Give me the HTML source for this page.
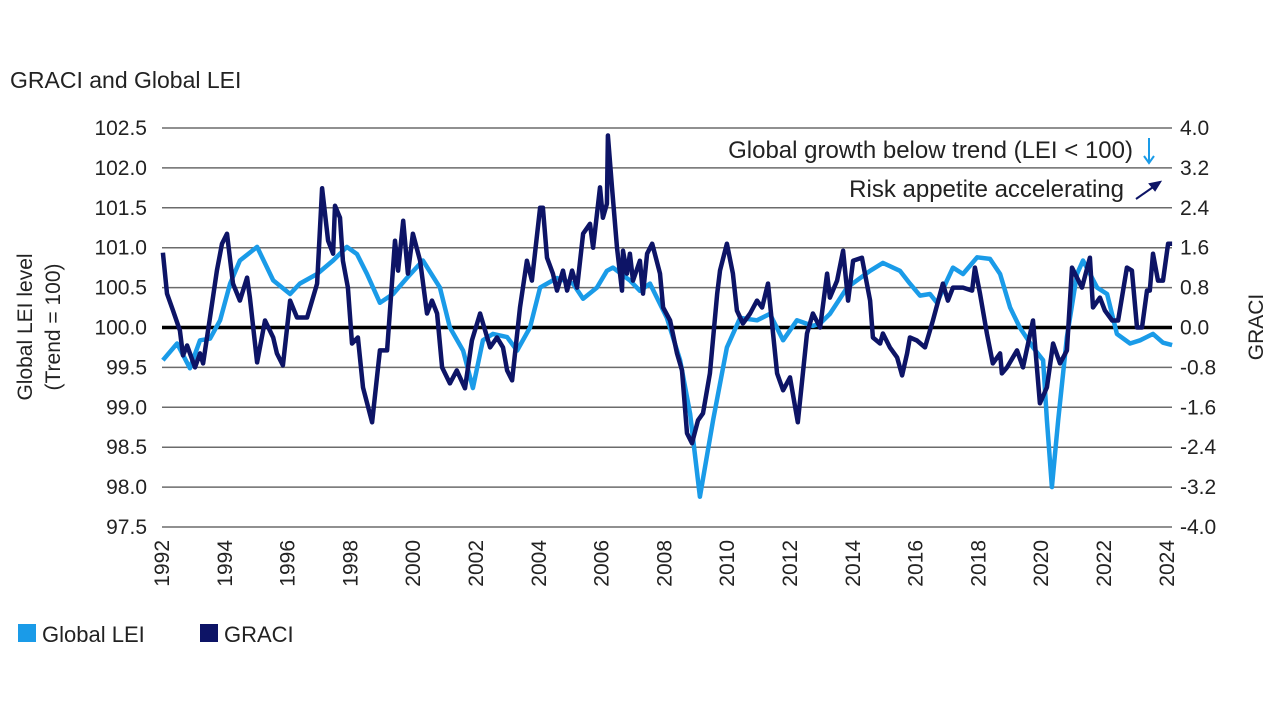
<!DOCTYPE html>
<html><head><meta charset="utf-8"><style>
body{margin:0;background:#fff;width:1280px;height:720px;overflow:hidden;font-family:"Liberation Sans",sans-serif}
</style></head><body>
<svg id="chart" width="1280" height="720" style="position:absolute;left:0;top:0" font-family="Liberation Sans, sans-serif">
<text x="10" y="88" font-size="23" fill="#222">GRACI and Global LEI</text>
<g id="grid"></g>
<g id="lticks" font-size="21" fill="#222" text-anchor="end"></g>
<g id="rticks" font-size="21" fill="#222"></g>
<g id="xticks" font-size="21" fill="#222"></g>
<text transform="translate(32,327) rotate(-90)" text-anchor="middle" font-size="21" fill="#222">Global LEI level</text>
<text transform="translate(60,327) rotate(-90)" text-anchor="middle" font-size="21" fill="#222">(Trend = 100)</text>
<text transform="translate(1263,327) rotate(-90)" text-anchor="middle" font-size="21" fill="#222">GRACI</text>
<g id="series"></g>
<text x="1133" y="158" text-anchor="end" font-size="24" fill="#222">Global growth below trend (LEI &lt; 100)</text>
<g stroke="#1a9be8" stroke-width="2" fill="none"><line x1="1149" y1="138" x2="1149" y2="162"/><polyline points="1144,156 1149,163 1154,156"/></g>
<text x="1124" y="197" text-anchor="end" font-size="24" fill="#222">Risk appetite accelerating</text>
<g stroke="#0d1466" stroke-width="2" fill="#0d1466"><line x1="1136" y1="199" x2="1156" y2="185"/><polygon points="1160,182 1150,184 1155,190"/></g>
<g>
<rect x="18" y="624" width="18" height="18" fill="#1a9be8"/>
<text x="42" y="642" font-size="22" fill="#222">Global LEI</text>
<rect x="200" y="624" width="18" height="18" fill="#0d1466"/>
<text x="224" y="642" font-size="22" fill="#222">GRACI</text>
</g>
</svg>
<script>
const leiDates=[1992.03,1992.48,1992.89,1993.21,1993.53,1993.85,1994.17,1994.48,1995.03,1995.54,1996.08,1996.39,1996.94,1997.45,1997.89,1998.21,1998.53,1998.94,1999.36,1999.8,2000.31,2000.85,2001.17,2001.59,2001.9,2002.22,2002.54,2002.99,2003.31,2003.72,2004.04,2004.58,2005.09,2005.41,2005.85,2006.17,2006.36,2006.9,2007.22,2007.54,2008.08,2008.5,2008.82,2009.13,2009.55,2009.99,2010.41,2010.95,2011.36,2011.78,2012.22,2012.73,2012.96,2013.27,2013.82,2014.13,2014.55,2014.96,2015.5,2015.82,2016.14,2016.46,2016.68,2017.0,2017.19,2017.51,2017.96,2018.37,2018.69,2019.01,2019.32,2019.74,2020.06,2020.18,2020.34,2020.54,2020.82,2021.14,2021.33,2021.78,2022.1,2022.41,2022.83,2023.15,2023.56,2023.88,2024.17];
const leiValues=[99.59,99.8,99.49,99.84,99.86,100.09,100.55,100.84,101.01,100.59,100.42,100.55,100.67,100.84,101.01,100.92,100.67,100.31,100.42,100.62,100.84,100.5,100.0,99.71,99.24,99.84,99.92,99.88,99.71,100.0,100.5,100.62,100.55,100.36,100.5,100.71,100.75,100.59,100.46,100.55,100.12,99.59,98.92,97.88,98.84,99.75,100.12,100.09,100.17,99.84,100.09,100.02,100.05,100.17,100.5,100.59,100.71,100.81,100.71,100.55,100.4,100.42,100.31,100.59,100.75,100.67,100.88,100.86,100.67,100.25,100.0,99.75,99.59,98.84,98.0,98.84,99.88,100.67,100.84,100.5,100.42,99.92,99.8,99.84,99.92,99.81,99.78];
const graciDates=[1992.03,1992.16,1992.35,1992.57,1992.67,1992.80,1993.05,1993.21,1993.31,1993.53,1993.75,1993.91,1994.07,1994.26,1994.48,1994.71,1994.80,1995.03,1995.28,1995.54,1995.66,1995.85,1996.08,1996.30,1996.62,1996.94,1997.10,1997.29,1997.45,1997.51,1997.67,1997.76,1997.92,1998.05,1998.24,1998.40,1998.69,1998.94,1999.17,1999.42,1999.52,1999.68,1999.83,1999.99,2000.22,2000.44,2000.60,2000.76,2000.92,2001.17,2001.39,2001.65,2001.87,2002.13,2002.45,2002.67,2002.86,2002.99,2003.15,2003.40,2003.62,2003.78,2004.04,2004.13,2004.26,2004.45,2004.58,2004.77,2004.90,2005.06,2005.22,2005.41,2005.63,2005.73,2005.95,2006.04,2006.17,2006.20,2006.33,2006.49,2006.65,2006.68,2006.81,2006.90,2007.00,2007.22,2007.32,2007.45,2007.61,2007.86,2007.96,2008.18,2008.40,2008.56,2008.72,2008.88,2009.07,2009.23,2009.45,2009.68,2009.77,2009.99,2010.18,2010.31,2010.50,2010.73,2010.95,2011.11,2011.30,2011.59,2011.78,2012.00,2012.25,2012.54,2012.73,2012.96,2013.18,2013.27,2013.50,2013.69,2013.85,2014.01,2014.29,2014.55,2014.64,2014.87,2014.96,2015.18,2015.41,2015.57,2015.73,2015.82,2016.04,2016.30,2016.55,2016.87,2017.03,2017.19,2017.51,2017.80,2017.89,2018.05,2018.27,2018.46,2018.69,2018.75,2018.91,2019.23,2019.42,2019.74,2019.96,2020.18,2020.38,2020.60,2020.82,2020.98,2021.14,2021.30,2021.55,2021.65,2021.87,2022.03,2022.26,2022.45,2022.73,2022.89,2023.05,2023.21,2023.37,2023.46,2023.56,2023.72,2023.88,2024.04,2024.17];
const graciValues=[1.5,0.68,0.34,-0.06,-0.56,-0.36,-0.8,-0.52,-0.72,0.2,1.14,1.68,1.88,0.88,0.54,1.0,0.6,-0.7,0.14,-0.2,-0.52,-0.76,0.54,0.2,0.2,0.88,2.79,1.74,1.48,2.44,2.2,1.34,0.8,-0.32,-0.2,-1.2,-1.9,-0.46,-0.46,1.74,1.14,2.14,1.08,1.88,1.34,0.28,0.54,0.28,-0.8,-1.12,-0.86,-1.22,-0.26,0.28,-0.4,-0.2,-0.4,-0.86,-1.06,0.4,1.34,0.94,2.4,2.4,1.4,1.08,0.74,1.14,0.74,1.14,0.8,1.88,2.08,1.6,2.81,2.2,2.48,3.85,2.81,1.6,0.74,1.54,1.08,1.48,0.94,1.34,0.68,1.48,1.68,1.08,0.4,0.14,-0.52,-0.86,-2.12,-2.32,-1.86,-1.72,-0.92,0.68,1.14,1.68,1.08,0.34,0.08,0.28,0.54,0.4,0.88,-0.92,-1.26,-1.0,-1.9,-0.12,0.28,0.0,1.08,0.6,0.94,1.54,0.54,1.34,1.4,0.54,-0.2,-0.32,-0.12,-0.4,-0.6,-0.96,-0.52,-0.2,-0.26,-0.4,0.14,0.88,0.54,0.8,0.8,0.74,1.2,0.68,-0.12,-0.72,-0.52,-0.92,-0.8,-0.46,-0.8,0.14,-1.52,-1.2,-0.32,-0.72,-0.46,1.2,1.0,0.8,1.4,0.4,0.6,0.34,0.14,0.14,1.2,1.14,0.0,0.0,0.74,0.74,1.48,0.94,0.94,1.68,1.68];
const leftTicks=["102.5","102.0","101.5","101.0","100.5","100.0","99.5","99.0","98.5","98.0","97.5"];
const rightTicks=["4.0","3.2","2.4","1.6","0.8","0.0","-0.8","-1.6","-2.4","-3.2","-4.0"];
const yearTicks=[1992,1994,1996,1998,2000,2002,2004,2006,2008,2010,2012,2014,2016,2018,2020,2022,2024];

const NS="http://www.w3.org/2000/svg";
const X0=162,X1=1172,T0=1992,T1=1992+(1172-162)/31.4;
const PT=128,PB=527;
const xs=t=>X0+(t-T0)/(T1-T0)*(X1-X0);
const yL=v=>PB-(v-97.5)/5*(PB-PT);
const yR=v=>PB-(v+4)/8*(PB-PT);
function mk(tag,attrs,parent){const e=document.createElementNS(NS,tag);for(const k in attrs)e.setAttribute(k,attrs[k]);parent.appendChild(e);return e;}
const grid=document.getElementById('grid');
leftTicks.forEach((lab,i)=>{
  const v=parseFloat(lab);const y=yL(v);
  const ln=mk('line',{x1:X0,x2:X1,y1:y,y2:y,stroke:v===100?'#000':'#6b6b6b','stroke-width':v===100?3.5:1.5},grid);
  
  
  const t=mk('text',{x:147,y:y+7},document.getElementById('lticks'));t.textContent=lab;
  
  
});
rightTicks.forEach(lab=>{
  const y=yR(parseFloat(lab));
  const t=mk('text',{x:1180,y:y+7},document.getElementById('rticks'));t.textContent=lab;
  
  
});
yearTicks.forEach(yr=>{
  const x=xs(yr);
  const t=mk('text',{transform:`translate(${x+7},540) rotate(-90)`,'text-anchor':'end'},document.getElementById('xticks'));t.textContent=yr;
  
  
});
const ser=document.getElementById('series');
const lp=leiDates.map((d,i)=>xs(d).toFixed(1)+','+yL(leiValues[i]).toFixed(1)).join(' ');
const l1=mk('polyline',{points:lp,fill:'none',stroke:'#1a9be8','stroke-width':4.5,'stroke-linejoin':'round'},ser);


const gp=graciDates.map((d,i)=>xs(d).toFixed(1)+','+yR(graciValues[i]).toFixed(1)).join(' ');
const l2=mk('polyline',{points:gp,fill:'none',stroke:'#0d1466','stroke-width':4.5,'stroke-linejoin':'round'},ser);


</script>
</body></html>
